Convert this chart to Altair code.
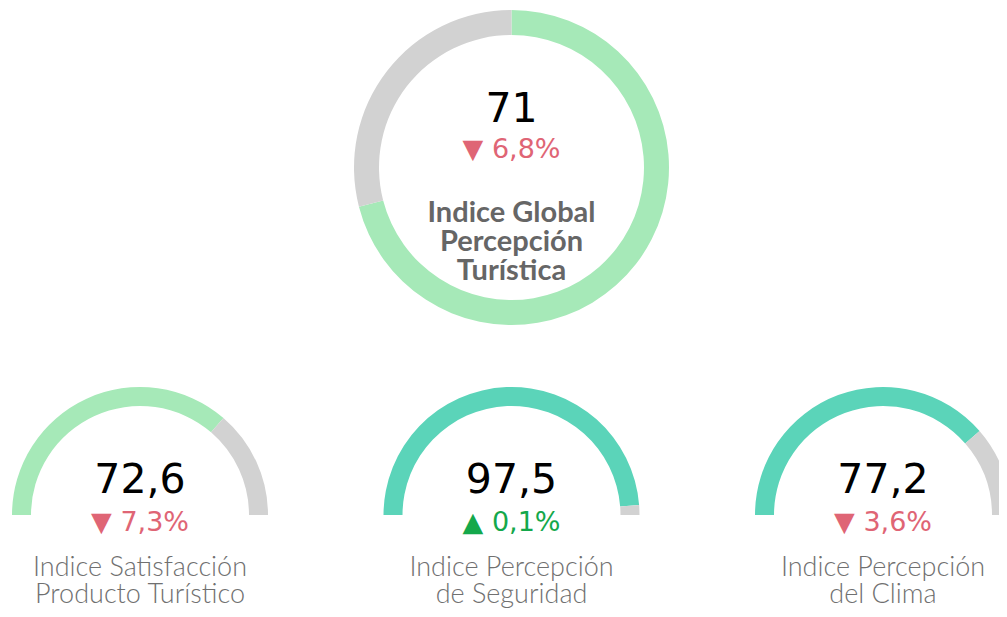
import math
import altair as alt
import pandas as pd

# ---------------- data ----------------
global_nombre = ["Indice Global", "Percepción", "Turística"]
global_valor = 71
global_cambio = -6.8

indices = ["Indice Satisfacción Producto Turístico",
           "Indice Percepción de Seguridad",
           "Indice Percepción del Clima"]
etiquetas = [["Indice Satisfacción", "Producto Turístico"],
             ["Indice Percepción", "de Seguridad"],
             ["Indice Percepción", "del Clima"]]
valores = [72.6, 97.5, 77.2]
cambios = [-7.3, 0.1, -3.6]


def fmt(v, dec=1):
    return f"{v:.{dec}f}".replace(".", ",")


def fmt_cambio(c):
    return ("▲ " if c >= 0 else "▼ ") + fmt(abs(c)) + "%"


# ---------------- styles ----------------
VERDE = "#a6e9b8"
TURQ = "#5bd4b9"
GRIS = "#d2d2d2"
ROJO = "#df6575"
VERDE_OSC = "#14a84b"

color_scale = alt.Scale(domain=["global"] + indices + ["resto"],
                        range=[VERDE, VERDE, TURQ, TURQ, GRIS])
dir_scale = alt.Scale(domain=["baja", "sube"], range=[ROJO, VERDE_OSC])

CX, CY = 503.5, 159.5
GY = 507
GX = [132, 503.5, 875]

layers = []

# ---------------- donut ----------------
df_donut = pd.DataFrame([
    {"ini": 0, "fin": global_valor, "tono": "global"},
    {"ini": global_valor, "fin": 100, "tono": "resto"},
])
df_donut_txt = pd.DataFrame([{
    "valor": fmt(global_valor, 0),
    "cambio": fmt_cambio(global_cambio),
    "dir": "sube" if global_cambio >= 0 else "baja",
    "nombre": "\n".join(global_nombre),
}])

layers.append(alt.Chart(df_donut).mark_arc(radius=157.5, radius2=132.5).encode(
    theta=alt.Theta("ini:Q", stack=None,
                    scale=alt.Scale(domain=[0, 100], range=[0, 2 * math.pi])),
    theta2="fin:Q",
    fill=alt.Fill("tono:N", scale=color_scale, legend=None),
    x=alt.value(CX), y=alt.value(CY),
))
layers.append(alt.Chart(df_donut_txt).mark_text(
    font="DejaVu Sans", fontSize=41, color="#000000", baseline="alphabetic", align="center"
).encode(text="valor:N", x=alt.value(CX), y=alt.value(114)))
layers.append(alt.Chart(df_donut_txt).mark_text(
    font="DejaVu Sans", fontSize=27, baseline="alphabetic", align="center"
).encode(text="cambio:N", x=alt.value(CX), y=alt.value(150),
         color=alt.Color("dir:N", scale=dir_scale, legend=None)))
layers.append(alt.Chart(df_donut_txt).mark_text(
    font="Lato", fontSize=29, fontWeight="bold", color="#666666",
    baseline="alphabetic", align="center", lineBreak="\n", lineHeight=29
).encode(text="nombre:N", x=alt.value(CX), y=alt.value(214)))

# ---------------- gauges ----------------
for i, (n, v, c, e) in enumerate(zip(indices, valores, cambios, etiquetas)):
    df_g = pd.DataFrame([
        {"ini": 0, "fin": v, "tono": n},
        {"ini": v, "fin": 100, "tono": "resto"},
    ])
    df_t = pd.DataFrame([{"valor": fmt(v), "cambio": fmt_cambio(c),
                          "dir": "sube" if c >= 0 else "baja",
                          "nombre": "\n".join(e)}])
    layers.append(alt.Chart(df_g).mark_arc(radius=128, radius2=109).encode(
        theta=alt.Theta("ini:Q", stack=None,
                        scale=alt.Scale(domain=[0, 100],
                                        range=[-math.pi / 2, math.pi / 2])),
        theta2="fin:Q",
        fill=alt.Fill("tono:N", scale=color_scale, legend=None),
        x=alt.value(GX[i]), y=alt.value(GY),
    ))
    layers.append(alt.Chart(df_t).mark_text(
        font="DejaVu Sans", fontSize=41, color="#000000",
        baseline="alphabetic", align="center"
    ).encode(text="valor:N", x=alt.value(GX[i]), y=alt.value(485)))
    layers.append(alt.Chart(df_t).mark_text(
        font="DejaVu Sans", fontSize=27, baseline="alphabetic", align="center"
    ).encode(text="cambio:N", x=alt.value(GX[i]), y=alt.value(523),
             color=alt.Color("dir:N", scale=dir_scale, legend=None)))
    layers.append(alt.Chart(df_t).mark_text(
        font="Lato", fontSize=27, fontWeight=300, color="#707070",
        baseline="alphabetic", align="center", lineBreak="\n", lineHeight=27
    ).encode(text="nombre:N", x=alt.value(GX[i]), y=alt.value(568)))

chart = alt.layer(*layers).resolve_scale(
    theta="independent", fill="independent", color="independent"
).properties(
    width=991, height=601, padding=0, autosize="none"
).configure_view(stroke=None)

chart.save("out.html", embed_options={"renderer": "svg", "actions": False})
